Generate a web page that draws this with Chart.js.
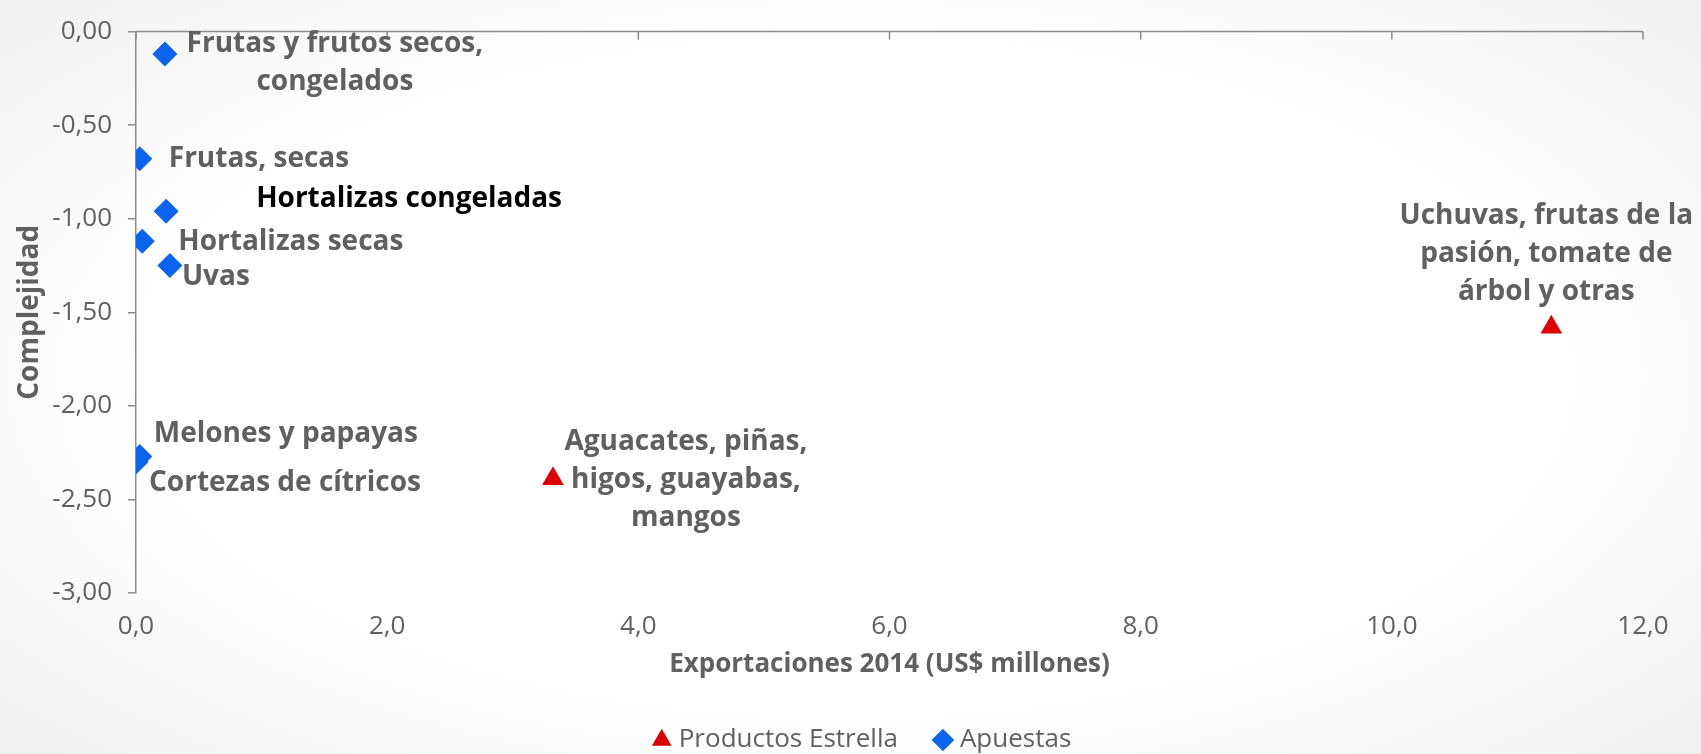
<!DOCTYPE html>
<html>
<head>
<meta charset="utf-8">
<script src="https://cdn.jsdelivr.net/npm/chart.js@4/dist/chart.umd.min.js"></script>
<style>
  html, body { margin: 0; padding: 0; }
  body {
    width: 1701px; height: 754px; overflow: hidden;
    background: radial-gradient(ellipse 75% 80% at 50% 50%, #ffffff 55%, #f3f3f3 85%, #ebebeb 100%);
  }
  #wrap { position: relative; width: 1701px; height: 754px; }
</style>
</head>
<body>
<div id="wrap"><canvas id="c" width="1701" height="754"></canvas></div>
<script>
// ---- Data ----
const estrellaNames = ["Aguacates, piñas, higos, guayabas, mangos", "Uchuvas, frutas de la pasión, tomate de árbol y otras"];
const estrellaLabelLines = [["Aguacates, piñas,", "higos, guayabas,", "mangos"], ["Uchuvas, frutas de la", "pasión, tomate de", "árbol y otras"]];
const estrellaExport = [3.32, 11.27];
const estrellaComplex = [-2.39, -1.58];

const apuestasNames = ["Frutas y frutos secos, congelados", "Frutas, secas", "Hortalizas congeladas", "Hortalizas secas", "Uvas", "Melones y papayas", "Cortezas de cítricos"];
const apuestasLabelLines = [["Frutas y frutos secos,", "congelados"], ["Frutas, secas"], ["Hortalizas congeladas"], ["Hortalizas secas"], ["Uvas"], ["Melones y papayas"], ["Cortezas de cítricos"]];
const apuestasExport = [0.23, 0.03, 0.24, 0.05, 0.27, 0.03, 0.00];
const apuestasComplex = [-0.12, -0.68, -0.96, -1.12, -1.25, -2.27, -2.30];

const xTicks = [0, 2, 4, 6, 8, 10, 12];
const yTicks = [0, -0.5, -1, -1.5, -2, -2.5, -3];

// ---- Label placement (pixel offsets from point, style only) ----
const estrellaLabelStyle = [
  { dx: 133, dy: -37, align: "center", color: "#606060" },
  { dx: -5, dy: -111, align: "center", color: "#606060" }
];
const apuestasLabelStyle = [
  { dx: 170, dy: -10, align: "center", color: "#606060" },
  { dx: 29, dy: 0, align: "left", color: "#606060" },
  { dx: 90, dy: -12, align: "left", color: "#000000" },
  { dx: 36, dy: 1, align: "left", color: "#606060" },
  { dx: 12, dy: 12, align: "left", color: "#606060" },
  { dx: 14, dy: -22, align: "left", color: "#606060" },
  { dx: 13, dy: 21, align: "left", color: "#606060" }
];

const FONT = "'Open Sans', 'DejaVu Sans', sans-serif";
const GRAY = "#606060";
const AXIS = "#8c8c8c";

const fmt = (v, d) => v.toFixed(d).replace(".", ",");

const labelPlugin = {
  id: "pointLabels",
  afterDatasetsDraw(chart) {
    const ctx = chart.ctx;
    const sets = [[estrellaLabelLines, estrellaLabelStyle], [apuestasLabelLines, apuestasLabelStyle]];
    ctx.save();
    ctx.font = "bold 28px " + FONT;
    ctx.textBaseline = "middle";
    sets.forEach(([lines, styles], di) => {
      const meta = chart.getDatasetMeta(di);
      meta.data.forEach((pt, i) => {
        const st = styles[i];
        ctx.fillStyle = st.color;
        ctx.textAlign = st.align;
        lines[i].forEach((ln, k) => {
          ctx.fillText(ln, pt.x + st.dx, pt.y + st.dy + k * 38);
        });
      });
    });
    ctx.restore();
  }
};

const topAxisPlugin = {
  id: "topAxis",
  beforeDatasetsDraw(chart) {
    const ctx = chart.ctx;
    const xs = chart.scales.x, ys = chart.scales.y;
    const y0 = ys.getPixelForValue(0);
    ctx.save();
    ctx.strokeStyle = AXIS;
    ctx.lineWidth = 1.5;
    ctx.beginPath();
    ctx.moveTo(xs.left, y0);
    ctx.lineTo(xs.right, y0);
    xTicks.forEach(t => {
      const x = xs.getPixelForValue(t);
      ctx.moveTo(x, y0);
      ctx.lineTo(x, y0 + 8);
    });
    ctx.stroke();
    ctx.restore();
  }
};

// Legend placement: move the legend box to where the reference has it
const legendPlace = {
  id: "legendPlace",
  afterLayout(chart) {
    const L = chart.legend;
    L.left += 43; L.right += 43;
    L.top = 686; L.bottom = 754; L.height = 68;
  }
};

new Chart(document.getElementById("c"), {
  type: "scatter",
  data: {
    datasets: [
      {
        label: "Productos Estrella",
        data: estrellaExport.map((x, i) => ({ x: x, y: estrellaComplex[i] })),
        pointStyle: "triangle",
        pointRadius: 12.5,
        backgroundColor: "#dd0000",
        borderColor: "#dd0000",
        borderWidth: 0
      },
      {
        label: "Apuestas",
        data: apuestasExport.map((x, i) => ({ x: x, y: apuestasComplex[i] })),
        pointStyle: "rectRot",
        pointRadius: 12.5,
        backgroundColor: "#0a64f0",
        borderColor: "#0a64f0",
        borderWidth: 0
      }
    ]
  },
  options: {
    responsive: false,
    animation: false,
    events: [],
    layout: { padding: { left: 0, right: 58, top: 31, bottom: 0 } },
    plugins: {
      tooltip: { enabled: false },
      legend: {
        position: "bottom",
        maxHeight: 40,
        labels: {
          usePointStyle: true,
          boxWidth: 8,
          boxHeight: 16,
          color: GRAY,
          font: { family: FONT, size: 26 },
          padding: 41
        }
      }
    },
    scales: {
      x: {
        type: "linear",
        min: 0, max: 12,
        afterBuildTicks: s => { s.ticks = xTicks.map(v => ({ value: v })); },
        afterFit: s => { s.height = 121; },
        border: { display: false },
        grid: { display: false, drawTicks: false },
        ticks: {
          color: GRAY, padding: 18,
          font: { family: FONT, size: 26 },
          callback: v => fmt(v, 1)
        },
        title: {
          display: true,
          text: "Exportaciones 2014 (US$ millones)",
          color: GRAY,
          font: { family: FONT, size: 26, weight: "bold" },
          padding: { top: 4, bottom: 34 }
        }
      },
      y: {
        type: "linear",
        min: -3, max: 0,
        afterBuildTicks: s => { s.ticks = yTicks.map(v => ({ value: v })); },
        afterFit: s => { s.width = 136; },
        border: { display: true, color: AXIS, width: 1.5 },
        grid: { drawOnChartArea: false, drawTicks: true, tickLength: 8, color: AXIS, lineWidth: 1.5 },
        ticks: {
          color: GRAY, padding: 16,
          font: { family: FONT, size: 26 },
          callback: v => fmt(v, 2)
        },
        title: {
          display: true,
          text: "Complejidad",
          color: GRAY,
          font: { family: FONT, size: 28, weight: "bold" },
          padding: { top: 13, bottom: 0 }
        }
      }
    }
  },
  plugins: [topAxisPlugin, labelPlugin, legendPlace]
});
</script>
</body>
</html>
